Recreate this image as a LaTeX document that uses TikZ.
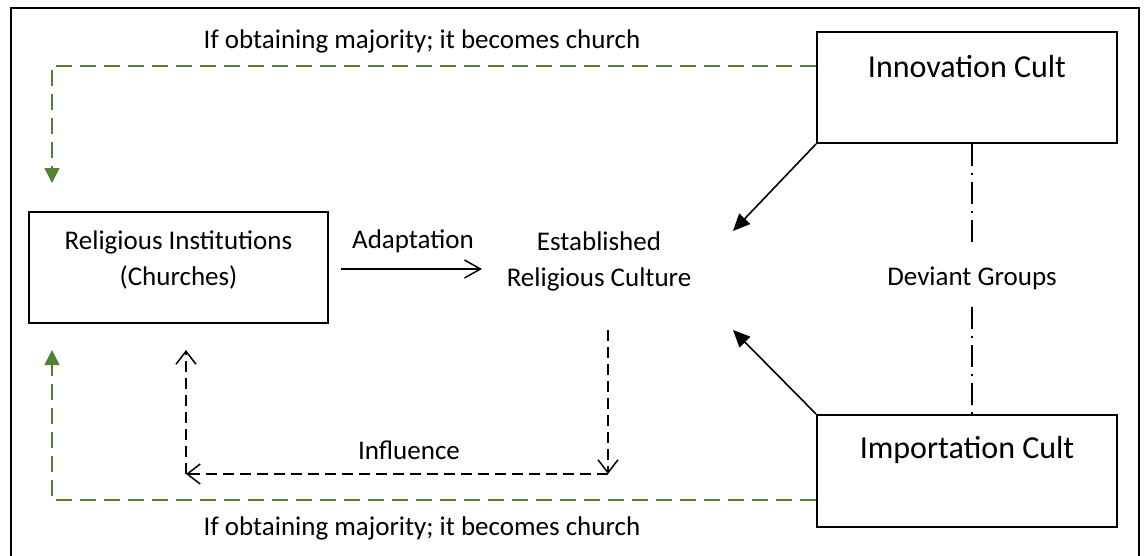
\documentclass[tikz,border=0pt]{standalone}
\usepackage{fontspec}
\setmainfont{Carlito}
\usetikzlibrary{arrows.meta,calc}
\definecolor{leafgreen}{RGB}{84,130,53}
\begin{document}
\begin{tikzpicture}[x=1pt,y=-1pt,
  txt/.style={font=\fontsize{27}{36.5}\selectfont, align=center, inner sep=0pt},
  bigtxt/.style={font=\fontsize{32}{38}\selectfont, inner sep=0pt},
  panel/.style={draw, line width=2pt, inner sep=0pt},
  solidarrow/.style={line width=1.6pt, -{Triangle[length=17pt,width=15pt]}},
  openarrow/.style={line width=1.5pt, -{Straight Barb[length=16pt,width=18pt]}},
  influence/.style={line width=1.5pt, dash pattern=on 11pt off 6pt,
    -{Straight Barb[length=13pt,width=20pt]}},
  majority/.style={leafgreen, line width=1.6pt, dash pattern=on 16pt off 8pt,
    -{Triangle[length=15pt,width=15pt]}},
  deviant/.style={line width=1.5pt, dash pattern=on 22pt off 7pt on 2pt off 7pt},
]
\useasboundingbox (0,0) rectangle (1147,555);
\fill[white] (0,0) rectangle (1147,555);

% outer frame
\draw[line width=2.5pt] (11,562) -- (11,8) -- (1139,8) -- (1139,562);

% boxes
\node[panel, minimum width=299pt, minimum height=111pt] (rel) at (178.5,267.5) {};
\node[txt] (reltext) at (178.5,260) {Religious Institutions\\(Churches)};
\node[panel, minimum width=300pt, minimum height=111pt] (inn) at (967,87.5) {};
\node[bigtxt] (inntext) at (967,67) {Innovation Cult};
\node[panel, minimum width=300pt, minimum height=112pt] (imp) at (967,471) {};
\node[bigtxt] (imptext) at (967,450) {Importation Cult};

% free-standing texts
\node[txt] (culture) at (599,261.5) {Established\\Religious Culture};
\node[txt] (adapt) at (413,241) {Adaptation};
\node[txt] (infl) at (409,450) {Influence};
\node[txt] (dev) at (972,278) {Deviant Groups};
\node[txt] (majtop) at (422,41) {If obtaining majority; it becomes church};
\node[txt] (majbot) at (422,528) {If obtaining majority; it becomes church};

% connector end points
\coordinate (adaptA) at (341,269);
\coordinate (adaptB) at (482,269);
\coordinate (innTip) at (733,231);
\coordinate (impTip) at (733,330);
\coordinate (inflTop) at (608,330);
\coordinate (inflCorner) at (608,474);
\coordinate (inflLeft) at (186,474);
\coordinate (inflUp) at (186,350);
\coordinate (greenTopTip) at (52,183);
\coordinate (greenBotTip) at (52,350);
\coordinate (devTop) at (972,248);
\coordinate (devBot) at (972,307);

% adaptation
\draw[openarrow] (adaptA) -- (adaptB);

% cults feeding the established culture
\draw[solidarrow] (inn.south west) -- (innTip);
\draw[solidarrow] (imp.north west) -- (impTip);

% deviant groups link
\draw[deviant] (inn.south -| devTop) -- (devTop);
\draw[deviant] (devBot) -- (imp.north -| devBot);

% influence loop
\draw[influence] (inflTop) -- (inflCorner);
\draw[influence] (inflCorner) -- (inflLeft);
\draw[influence] (inflLeft) -- (inflUp);

% cults becoming churches
\draw[majority] ([yshift=21.5pt]inn.west) -| (greenTopTip);
\draw[majority] ([yshift=-29pt]imp.west) -| (greenBotTip);
\end{tikzpicture}
\end{document}
